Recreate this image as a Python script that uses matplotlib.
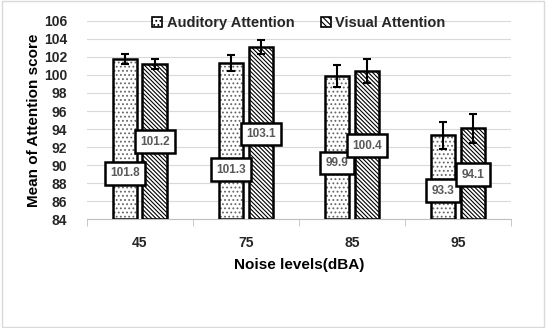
import matplotlib
matplotlib.use("Agg")
import matplotlib.pyplot as plt
from matplotlib.patches import Patch
import numpy as np

plt.rcParams['hatch.linewidth'] = 0.8
plt.rcParams['font.family'] = ['Liberation Sans', 'DejaVu Sans']

categories = ["45", "75", "85", "95"]
auditory = [101.8, 101.3, 99.9, 93.3]
visual = [101.2, 103.1, 100.4, 94.1]
auditory_err = [0.55, 0.9, 1.2, 1.5]
visual_err = [0.6, 0.8, 1.35, 1.6]
auditory_label_y = [89.1, 89.5, 90.25, 87.2]
visual_label_y = [92.6, 93.45, 92.15, 88.95]

fig = plt.figure(figsize=(5.46, 3.28), dpi=100)
ax = fig.add_axes([0.159, 0.331, 0.777, 0.606])

x = np.arange(len(categories))
w = 0.23
off = 0.14
# hatch layers (gray dots) then outline
ax.bar(x - off, [a - 84 for a in auditory], w, bottom=84, color='white',
       edgecolor='#666666', linewidth=0, hatch='....', zorder=3)
ax.bar(x - off, [a - 84 for a in auditory], w, bottom=84, fill=False,
       edgecolor='black', linewidth=1.8, zorder=3)
ax.bar(x + off, [v - 84 for v in visual], w, bottom=84, color='white',
       edgecolor='black', linewidth=1.8, hatch='\\\\\\\\\\\\\\\\', zorder=3)
ax.errorbar(x - off, auditory, yerr=auditory_err, fmt='none', ecolor='black',
            elinewidth=1.5, capsize=3, capthick=1.5, zorder=4)
ax.errorbar(x + off, visual, yerr=visual_err, fmt='none', ecolor='black',
            elinewidth=1.5, capsize=3, capthick=1.5, zorder=4)

box = dict(boxstyle='square,pad=0.45', facecolor='white', edgecolor='black', linewidth=1.8)
for i in range(len(categories)):
    ax.text(x[i] - off, auditory_label_y[i], f"{auditory[i]:.1f}", ha='center', va='center',
            fontsize=8.5, fontweight='bold', color='#595959', bbox=box, zorder=5)
    ax.text(x[i] + off, visual_label_y[i], f"{visual[i]:.1f}", ha='center', va='center',
            fontsize=8.5, fontweight='bold', color='#595959', bbox=box, zorder=5)

ax.set_ylim(84, 106)
ax.set_yticks(np.arange(84, 107, 2))
ax.set_xlim(-0.5, 3.5)
ax.set_xticks(x)
ax.set_xticklabels(categories)
ax.set_xticks(np.arange(-0.5, 4, 1), minor=True)
ax.tick_params(axis='x', which='major', length=0, pad=12, labelsize=10)
ax.tick_params(axis='x', which='minor', length=5, color='#BFBFBF')
ax.tick_params(axis='y', length=0, labelsize=10, pad=14)
for lab in ax.get_xticklabels() + ax.get_yticklabels():
    lab.set_fontweight('bold')
    lab.set_color('#262626')
ax.yaxis.grid(True, color='#D9D9D9', linewidth=0.8, zorder=0)
ax.set_axisbelow(True)
for s in ['top', 'right', 'left']:
    ax.spines[s].set_visible(False)
ax.spines['bottom'].set_color('#BFBFBF')

ax.set_ylabel('Mean of Attention score', fontsize=11, fontweight='bold', labelpad=2)
ax.set_xlabel('Noise levels(dBA)', fontsize=11, fontweight='bold', labelpad=6)

handles = [Patch(facecolor='white', edgecolor='black', hatch='....', linewidth=1.2),
           Patch(facecolor='white', edgecolor='black', hatch='\\\\\\\\\\\\', linewidth=1.2)]
leg = ax.legend(handles, ['Auditory Attention', 'Visual Attention'],
                loc='upper center', bbox_to_anchor=(0.5, 1.09), ncol=2, frameon=False,
                handlelength=0.7, handleheight=0.7, handletextpad=0.3,
                columnspacing=1.8, prop={'weight': 'bold', 'size': 10.5})
for t in leg.get_texts():
    t.set_color('#262626')

fig.patches.append(plt.Rectangle((0.003, 0.003), 0.994, 0.994, transform=fig.transFigure,
                                 fill=False, edgecolor='#D9D9D9', linewidth=1))
fig.savefig('out.png', dpi=100)
